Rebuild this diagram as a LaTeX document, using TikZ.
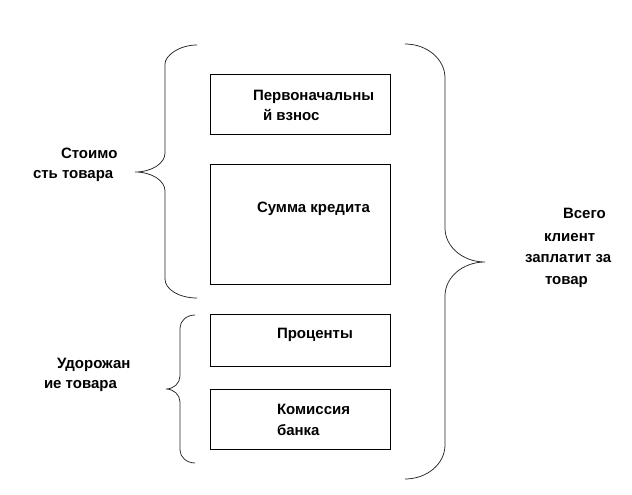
\documentclass[tikz,border=0pt]{standalone}
\usepackage{fontspec}
\setmainfont{Liberation Sans}
\begin{document}
\begin{tikzpicture}[x=1pt,y=-1pt,
  box/.style={draw=black,line width=0.8pt,inner sep=0pt,outer sep=0pt},
  txt/.style={anchor=base west,inner sep=0pt,outer sep=0pt,font=\fontsize{15}{18}\selectfont\bfseries},
  bracepath/.style={draw=black!85,line width=0.75pt}]
\useasboundingbox (0,0) rectangle (632,495);
% boxes
\node[box,minimum width=180pt,minimum height=60pt] (b1) at (300,104) {};
\node[box,minimum width=180pt,minimum height=120pt] (b2) at (300,224) {};
\node[box,minimum width=180pt,minimum height=52pt] (b3) at (300,340) {};
\node[box,minimum width=180pt,minimum height=60pt] (b4) at (300,419) {};
% box texts
\node[txt] (t1a) at (253,100) {Первоначальны};
\node[txt] (t1b) at (263,121) {й взнос};
\node[txt] (t2) at (257,212) {Сумма кредита};
\node[txt] (t3) at (277,338) {Проценты};
\node[txt] (t4a) at (277,414) {Комиссия};
\node[txt] (t4b) at (277,435) {банка};
% left labels
\node[txt] (l1a) at (61,158) {Стоимо};
\node[txt] (l1b) at (33,178) {сть товара};
\node[txt] (l2a) at (57,368) {Удорожан};
\node[txt] (l2b) at (44,388) {ие товара};
% right label
\node[txt] (r1) at (563,218) {Всего};
\node[txt] (r2) at (544,241) {клиент};
\node[txt] (r3) at (525,262) {заплатит за};
\node[txt] (r4) at (545,284) {товар};
% braces
\draw[bracepath] (197,45) .. controls (179.3,45) and (165,55.5) .. (165,64) -- (165,153)
  .. controls (165,163.5) and (151.6,172) .. (135,172)
  .. controls (151.6,172) and (165,180.5) .. (165,191) -- (165,279)
  .. controls (165,289.5) and (179.3,298) .. (197,298);
\draw[bracepath] (195,315) .. controls (186.7,315) and (180,320.8) .. (180,328) -- (180,376)
  .. controls (180,383.2) and (173.7,389) .. (166,389)
  .. controls (173.7,389) and (180,394.8) .. (180,402) -- (180,450)
  .. controls (180,457.2) and (186.7,463) .. (195,463);
\draw[bracepath] (405,44) .. controls (427.1,44) and (445,59.2) .. (445,78) -- (445,228)
  .. controls (445,246.8) and (462.9,262) .. (485,262)
  .. controls (462.9,262) and (445,277.2) .. (445,296) -- (445,445)
  .. controls (445,463.8) and (427.1,479) .. (405,479);
\end{tikzpicture}
\end{document}
